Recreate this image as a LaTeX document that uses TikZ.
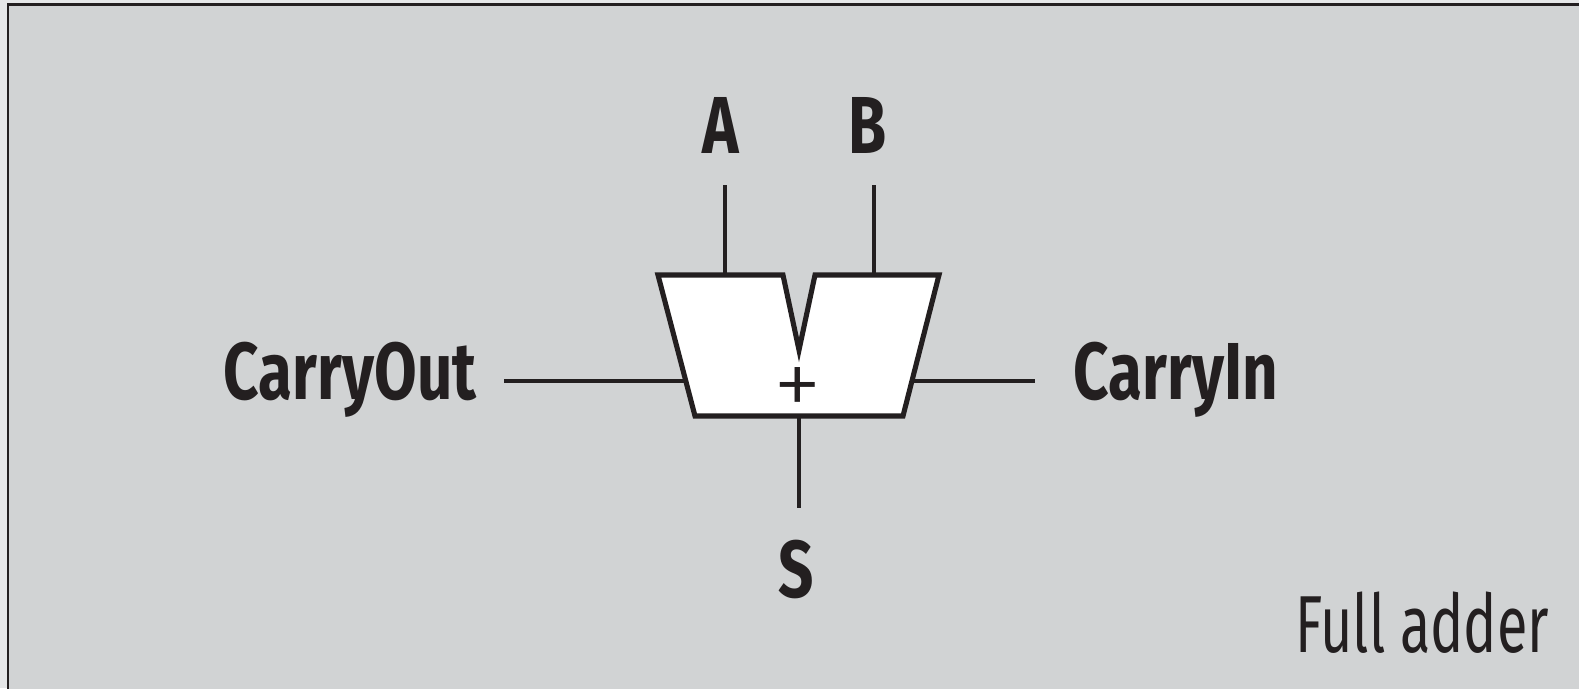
\documentclass[tikz,border=0pt]{standalone}
\usepackage{fontspec}
\setmainfont{Fira Sans}[FakeStretch=0.69]
\newfontfamily\labelfont{Fira Sans}[FakeStretch=0.765]
\newfontfamily\plainsans{Fira Sans Light}
\usepackage{xcolor}
\definecolor{ink}{HTML}{231F20}
\definecolor{panel}{HTML}{D1D3D4}
\definecolor{paper}{HTML}{E6E7E8}
\tikzset{
    every node/.style = {inner sep=0pt, text=ink},
    port label/.style = {font=\labelfont\fontsize{23}{23}\selectfont\bfseries},
    wire/.style = {draw=ink, line width=1.3pt},
    adder/.style = {draw=ink, fill=white, line width=1.45pt, line join=miter}
}

\begin{document}
\begin{tikzpicture}[x=0.1mm, y=-0.1mm]
        \useasboundingbox (0,0) rectangle (1579,688);
        \clip (0,0) rectangle (1579,688);
        \fill[paper] (0,0) rectangle (1579,688);
        \draw[draw=ink, fill=panel, line width=0.85pt] (8,4.5) rectangle (1640,720);
        % corners of the adder body
        \coordinate (tl) at (658,275);
        \coordinate (nl) at (783,275);
        \coordinate (nb) at (799,350);
        \coordinate (nr) at (815,275);
        \coordinate (tr) at (939,275);
        \coordinate (br) at (903,416);
        \coordinate (bl) at (695,416);
        % ports and free wire ends
        \coordinate (a in) at (725,275);   \coordinate (a end) at (725,185);
        \coordinate (b in) at (874,275);   \coordinate (b end) at (874,185);
        \coordinate (s out) at (799,416);  \coordinate (s end) at (799,508);
        \coordinate (co out) at (686,381); \coordinate (co end) at (504,381);
        \coordinate (ci in) at (911,381);  \coordinate (ci end) at (1035,381);
        \foreach \p/\q in {a in/a end, b in/b end, s out/s end, co out/co end, ci in/ci end}
            \draw[wire] (\p) -- (\q);
        \draw[adder] (tl) -- (nl) -- (nb) -- (nr) -- (tr) -- (br) -- (bl) -- cycle;
        \node[font=\plainsans\fontsize{28}{28}\selectfont] (plus) at (798,392) {+};
        % labels
        \node[port label, anchor=base] (A) at (721,153) {A};
        \node[port label, anchor=base] (B) at (868,153) {B};
        \node[port label, anchor=base] (S) at (796,597) {S};
        \node[port label, anchor=base east] (CarryOut) at (477,399) {CarryOut};
        \node[port label, anchor=base west] (CarryIn) at (1073,399) {CarryIn};
        \node[font=\fontsize{23}{23}\selectfont, anchor=base east] (title) at (1550,652) {Full adder};
    \end{tikzpicture}
\end{document}
